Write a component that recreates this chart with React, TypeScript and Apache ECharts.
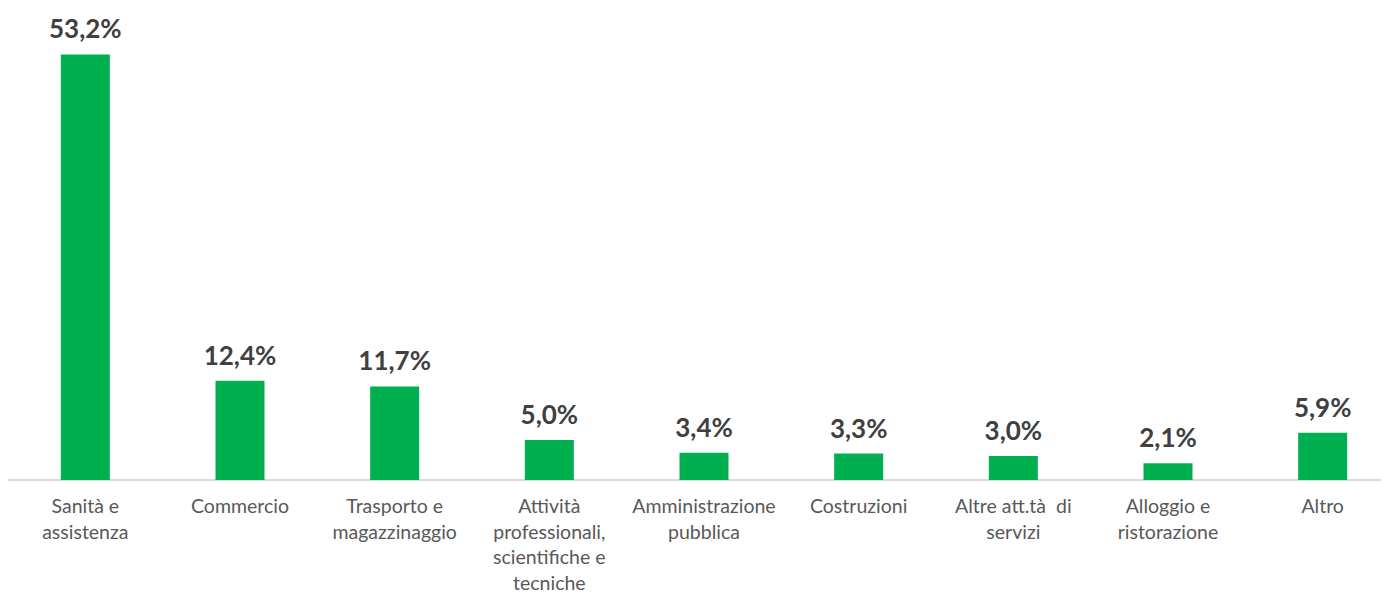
import React, { useEffect, useRef } from "react";
import * as echarts from "echarts";

const categories = [
  "Sanità e\nassistenza",
  "Commercio",
  "Trasporto e\nmagazzinaggio",
  "Attività\nprofessionali,\nscientifiche e\ntecniche",
  "Amministrazione\npubblica",
  "Costruzioni",
  "Altre att.tà  di\nservizi",
  "Alloggio e\nristorazione",
  "Altro",
];
const values = [53.2, 12.4, 11.7, 5.0, 3.4, 3.3, 3.0, 2.1, 5.9];

export default function App() {
  const ref = useRef<HTMLDivElement>(null);
  useEffect(() => {
    if (!ref.current) return;
    const chart = echarts.init(ref.current, null, { renderer: "svg" });
    chart.setOption({
      animation: false,
      grid: {
        left: 0,
        right: 0,
        top: 0,
        bottom: 114,
        containLabel: false,
        outerBoundsMode: "none",
      },
      xAxis: {
        type: "category",
        data: categories,
        axisLine: { show: true, lineStyle: { color: "#D9D9D9", width: 2 } },
        axisTick: { show: false },
        axisLabel: {
          interval: 0,
          color: "#595959",
          fontFamily: "Lato",
          fontSize: 19.5,
          lineHeight: 25.5,
          margin: 13,
        },
      },
      yAxis: {
        type: "value",
        min: 0,
        max: 59,
        show: false,
        splitLine: { show: false },
      },
      series: [
        {
          type: "bar",
          data: values,
          barWidth: 49,
          itemStyle: { color: "#00B050" },
          label: {
            show: true,
            position: "top",
            distance: 13,
            color: "#404040",
            fontFamily: "Lato",
            fontWeight: "bold",
            fontSize: 26,
            formatter: (p: any) => p.value.toFixed(1).replace(".", ",") + "%",
          },
        },
      ],
    });
    return () => chart.dispose();
  }, []);
  return (
    <div style={{ width: 1381, height: 586, overflow: "hidden" }}>
      <div ref={ref} style={{ width: 1392, height: 586 }} />
    </div>
  );
}
